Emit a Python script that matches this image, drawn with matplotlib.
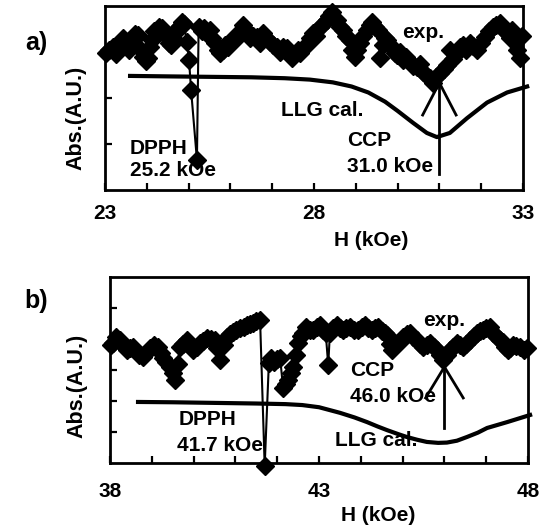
import matplotlib
matplotlib.use("Agg")
import matplotlib.pyplot as plt
from matplotlib.ticker import FixedLocator, NullFormatter

plt.rcParams['font.family'] = ['Liberation Sans', 'DejaVu Sans']
plt.rcParams['font.weight'] = 'bold'

# ---- panel a: 23-33 kOe sweep ----
a_field = [23.02, 23.10, 23.19, 23.27, 23.36, 23.43, 23.50, 23.58, 23.67, 23.73,
           23.79, 23.85, 23.91, 23.97, 24.03, 24.08, 24.12, 24.18, 24.24, 24.30,
           24.36, 24.42, 24.48, 24.53, 24.58, 24.62, 24.67, 24.73, 24.79, 24.85,
           24.89, 24.96, 25.01, 25.06, 25.20, 25.24, 25.31, 25.38, 25.45, 25.51,
           25.57, 25.63, 25.70, 25.76, 25.82, 25.88, 25.95, 26.04, 26.10, 26.17,
           26.23, 26.30, 26.36, 26.42, 26.48, 26.55, 26.64, 26.70, 26.78, 26.85,
           26.95, 27.02, 27.11, 27.18, 27.25, 27.35, 27.41, 27.47, 27.55, 27.61,
           27.67, 27.75, 27.83, 27.90, 27.98, 28.06, 28.14, 28.22, 28.31, 28.37,
           28.43, 28.49, 28.55, 28.62, 28.69, 28.77, 28.86, 28.92, 28.98, 29.04,
           29.10, 29.18, 29.27, 29.33, 29.39, 29.46, 29.53, 29.58, 29.64, 29.70,
           29.75, 29.81, 29.87, 29.93, 29.99, 30.06, 30.13, 30.20, 30.30, 30.38,
           30.46, 30.54, 30.61, 30.70, 30.78, 30.85, 30.93, 31.01, 31.10, 31.18,
           31.25, 31.33, 31.42, 31.49, 31.56, 31.64, 31.73, 31.81, 31.90, 32.00,
           32.09, 32.18, 32.28, 32.36, 32.45, 32.53, 32.62, 32.68, 32.74, 32.80,
           32.86, 32.92, 32.97]
a_abs = [2.98, 3.05, 3.11, 2.95, 3.22, 3.30, 3.15, 3.05, 3.26, 3.40,
         3.37, 3.05, 2.90, 2.80, 2.87, 3.10, 3.26, 3.45, 3.41, 3.55,
         3.52, 3.40, 3.35, 3.20, 3.15, 3.30, 3.41, 3.50, 3.57, 3.65,
         3.60, 3.22, 2.83, 2.17, 0.65, 3.55, 3.45, 3.52, 3.40, 3.48,
         3.30, 3.20, 3.05, 2.98, 3.04, 3.15, 3.10, 3.22, 3.35, 3.30,
         3.43, 3.59, 3.50, 3.41, 3.30, 3.35, 3.33, 3.20, 3.41, 3.30,
         3.22, 3.15, 3.11, 3.00, 3.10, 3.09, 2.95, 2.87, 2.95, 3.05,
         2.98, 3.10, 3.15, 3.30, 3.41, 3.35, 3.54, 3.60, 3.70, 3.78,
         3.88, 3.72, 3.70, 3.55, 3.48, 3.35, 3.26, 3.05, 2.89, 3.05,
         3.20, 3.35, 3.48, 3.58, 3.65, 3.55, 3.48, 2.87, 3.15, 3.30,
         3.26, 3.15, 3.09, 2.98, 2.93, 3.00, 2.83, 2.90, 2.78, 2.70,
         2.67, 2.75, 2.57, 2.48, 2.43, 2.33, 2.45, 2.54, 2.62, 2.72,
         3.04, 2.85, 2.98, 3.10, 3.15, 3.05, 3.20, 3.12, 3.04, 3.20,
         3.33, 3.45, 3.54, 3.58, 3.63, 3.50, 3.41, 3.30, 3.48, 3.25,
         3.05, 2.88, 3.35]
a_llg_field = [23.6, 24.5, 25.5, 26.5, 27.3, 27.9, 28.45, 28.9, 29.3, 29.7,
               30.0, 30.37, 30.7, 30.94, 31.25, 31.66, 32.14, 32.62, 33.1]
a_llg_abs = [2.48, 2.47, 2.46, 2.45, 2.43, 2.40, 2.34, 2.25, 2.12, 1.92,
             1.72, 1.46, 1.24, 1.15, 1.24, 1.56, 1.90, 2.12, 2.25]
a_dpph = 25.2
a_ccp = 31.0

# ---- panel b: 38-48 kOe sweep ----
b_field = [38.02, 38.07, 38.15, 38.24, 38.32, 38.41, 38.48, 38.55, 38.62, 38.70,
           38.79, 38.87, 38.96, 39.05, 39.15, 39.21, 39.27, 39.35, 39.44, 39.50,
           39.56, 39.62, 39.67, 39.75, 39.84, 39.92, 39.99, 40.07, 40.15, 40.23,
           40.32, 40.42, 40.51, 40.57, 40.63, 40.72, 40.80, 40.87, 40.94, 41.02,
           41.11, 41.20, 41.28, 41.35, 41.42, 41.50, 41.59, 41.70, 41.80, 41.86,
           41.92, 42.00, 42.07, 42.14, 42.20, 42.26, 42.32, 42.38, 42.44, 42.50,
           42.56, 42.62, 42.70, 42.78, 42.86, 42.94, 43.02, 43.10, 43.16, 43.22,
           43.26, 43.34, 43.43, 43.50, 43.57, 43.65, 43.74, 43.83, 43.93, 44.02,
           44.10, 44.18, 44.27, 44.34, 44.41, 44.50, 44.57, 44.63, 44.69, 44.75,
           44.82, 44.89, 44.95, 45.01, 45.10, 45.18, 45.26, 45.34, 45.41, 45.49,
           45.58, 45.66, 45.74, 45.82, 45.90, 45.97, 46.05, 46.13, 46.21, 46.30,
           46.37, 46.44, 46.52, 46.61, 46.70, 46.78, 46.85, 46.92, 47.00, 47.09,
           47.17, 47.26, 47.33, 47.40, 47.46, 47.52, 47.58, 47.64, 47.72, 47.81,
           47.90, 47.97]
b_abs = [3.80, 3.87, 4.05, 3.97, 3.80, 3.65, 3.70, 3.74, 3.60, 3.50,
         3.42, 3.55, 3.71, 3.80, 3.74, 3.55, 3.39, 3.25, 3.10, 2.90,
         2.68, 3.20, 3.74, 3.85, 3.97, 3.80, 3.65, 3.75, 3.87, 3.95,
         4.03, 4.00, 3.97, 3.70, 3.32, 3.80, 4.06, 4.15, 4.23, 4.30,
         4.35, 4.40, 4.45, 4.50, 4.52, 4.58, 4.61, -0.10, 3.23, 3.40,
         3.26, 3.35, 3.39, 2.42, 2.55, 2.68, 2.90, 3.10, 3.50, 3.87,
         4.10, 4.19, 4.39, 4.29, 4.29, 4.40, 4.45, 4.30, 4.20, 3.16,
         4.19, 4.35, 4.45, 4.35, 4.29, 4.35, 4.39, 4.30, 4.29, 4.38,
         4.45, 4.35, 4.29, 4.35, 4.39, 4.25, 4.20, 4.13, 3.85, 3.65,
         3.78, 3.87, 3.95, 4.06, 4.15, 4.19, 4.08, 3.97, 3.85, 3.74,
         3.80, 3.87, 3.75, 3.65, 3.50, 3.32, 3.50, 3.65, 3.75, 3.87,
         3.80, 3.74, 3.85, 3.97, 4.10, 4.19, 4.25, 4.29, 4.35, 4.39,
         4.20, 4.06, 3.98, 3.90, 3.75, 3.65, 3.72, 3.81, 3.78, 3.74,
         3.65, 3.71]
b_llg_field = [38.67, 39.5, 40.5, 41.5, 42.2, 42.6, 43.0, 43.5, 43.85, 44.15,
               44.4, 44.63, 44.9, 45.1, 45.35, 45.58, 45.85, 46.06, 46.3, 46.54,
               46.8, 47.02, 47.5, 48.05]
b_llg_abs = [1.97, 1.96, 1.94, 1.92, 1.90, 1.87, 1.80, 1.62, 1.47, 1.32,
             1.18, 1.06, 0.93, 0.84, 0.75, 0.68, 0.65, 0.66, 0.72, 0.84,
             0.98, 1.13, 1.32, 1.55]
b_dpph = 41.7
b_ccp = 46.0

FS = 15
fig = plt.figure(figsize=(5.42, 5.27), dpi=100)
ax_a = fig.add_axes([0.1937, 0.6395, 0.7712, 0.3491])
ax_b = fig.add_axes([0.2030, 0.1214, 0.7712, 0.3529])


def style(ax, xlo, xhi, ymax, pad):
    ax.set_xlim(xlo, xhi)
    ax.set_ylim(0, ymax)
    for s in ax.spines.values():
        s.set_linewidth(2.0)
    ticks = list(range(xlo, xhi + 1))
    ax.xaxis.set_major_locator(FixedLocator(ticks))
    ax.set_xticklabels([str(t) if (t - xlo) % 5 == 0 else '' for t in ticks])
    ax.yaxis.set_major_locator(FixedLocator(list(range(1, ymax))))
    ax.yaxis.set_major_formatter(NullFormatter())
    ax.tick_params(direction='in', length=5, width=1.6, labelsize=FS, pad=pad)


def draw(ax, fx, fy, lx, ly, ccp, tip, tail, arm_dx, arm_dy):
    ax.plot(fx, fy, color='black', lw=1.5, marker='D', ms=9,
            mfc='black', mec='black', clip_on=False, zorder=3)
    ax.plot(lx, ly, color='black', lw=3.0, clip_on=False, zorder=2)
    ax.plot([ccp, ccp], [tail, tip], color='black', lw=2.0, zorder=4)
    ax.plot([ccp - arm_dx, ccp, ccp + arm_dx], [tip - arm_dy, tip, tip - arm_dy],
            color='black', lw=2.0, zorder=4)


style(ax_a, 23, 33, 4, 10)
draw(ax_a, a_field, a_abs, a_llg_field, a_llg_abs, a_ccp, 2.33, 0.35, 0.40, 0.70)
ax_a.text(23.6, 0.91, 'DPPH', fontsize=FS, ha='left', va='center')
ax_a.text(23.6, 0.43, f'{a_dpph:.1f} kOe', fontsize=FS, ha='left', va='center')
ax_a.text(28.8, 1.07, 'CCP', fontsize=FS, ha='left', va='center')
ax_a.text(28.8, 0.50, f'{a_ccp:.1f} kOe', fontsize=FS, ha='left', va='center')
ax_a.text(27.2, 1.72, 'LLG cal.', fontsize=FS, ha='left', va='center')
ax_a.text(30.1, 3.42, 'exp.', fontsize=FS, ha='left', va='center')
ax_a.text(0.636, -0.277, 'H (kOe)', transform=ax_a.transAxes, fontsize=FS,
          ha='center', va='center')

style(ax_b, 38, 48, 6, 13.5)
draw(ax_b, b_field, b_abs, b_llg_field, b_llg_abs, b_ccp, 3.10, 1.13, 0.45, 1.0)
ax_b.text(39.63, 1.39, 'DPPH', fontsize=FS, ha='left', va='center')
ax_b.text(39.6, 0.55, f'{b_dpph:.1f} kOe', fontsize=FS, ha='left', va='center')
ax_b.text(43.74, 3.0, 'CCP', fontsize=FS, ha='left', va='center')
ax_b.text(43.74, 2.13, f'{b_ccp:.1f} kOe', fontsize=FS, ha='left', va='center')
ax_b.text(43.38, 0.74, 'LLG cal.', fontsize=FS, ha='left', va='center')
ax_b.text(45.49, 4.6, 'exp.', fontsize=FS, ha='left', va='center')
ax_b.text(0.641, -0.28, 'H (kOe)', transform=ax_b.transAxes, fontsize=FS,
          ha='center', va='center')

fig.text(76 / 542, 1 - 118 / 527, 'Abs.(A.U.)', rotation=90, fontsize=15.5,
         ha='center', va='center')
fig.text(77 / 542, 1 - 386 / 527, 'Abs.(A.U.)', rotation=90, fontsize=15.5,
         ha='center', va='center')
fig.text(36 / 542, 1 - 43 / 527, 'a)', fontsize=18, ha='center', va='center')
fig.text(36 / 542, 1 - 301 / 527, 'b)', fontsize=18, ha='center', va='center')

fig.savefig('out.png', dpi=100, facecolor='white')
